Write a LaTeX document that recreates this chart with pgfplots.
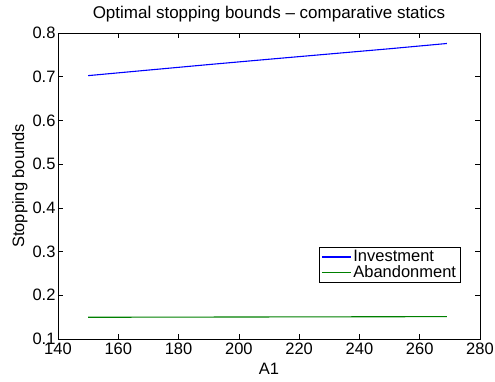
\documentclass[border=0pt]{standalone}
\usepackage{pgfplots}
\pgfplotsset{compat=1.18}
\usepackage{fontspec}
\setmainfont{Liberation Sans}
\definecolor{mgreen}{rgb}{0,0.5,0}
\begin{document}
\begin{tikzpicture}[x=1pt,y=1pt]
\useasboundingbox (-58,-42) rectangle (437,339);
\begin{axis}[
  at={(0,0)}, anchor=south west,
  scale only axis, width=422pt, height=306pt,
  xmin=140, xmax=280, ymin=0.1, ymax=0.8,
  xtick={140,160,...,280},
  ytick={0.1,0.2,...,0.8},
  tick align=inside,
  major tick length=5pt,
  tick style={black, line width=0.5pt},
  axis line style={line width=0.6pt},
  /pgf/number format/assume math mode=true,
  /pgf/number format/fixed,
  /pgf/number format/precision=1,
  ticklabel style={font=\fontsize{16.5}{18}\selectfont},
  yticklabel style={xshift=1pt},
  label style={font=\fontsize{16.5}{18}\selectfont},
  title style={font=\fontsize{17}{19}\selectfont, yshift=1pt},
  title={Optimal stopping bounds -- comparative statics},
  xlabel={A1},
  ylabel={Stopping bounds},
  xlabel style={yshift=-2pt},
  ylabel style={yshift=-2pt},
  legend style={at={(axis cs:226.6,0.2302)}, anchor=south west,
    font=\fontsize{16.5}{18}\selectfont,
    inner xsep=2pt, inner ysep=1pt, row sep=-2pt},
  legend cell align=left,
  legend image code/.code={\draw[#1] (0pt,0pt) -- (29pt,0pt);},
]
\addplot[draw=blue, color=blue, line width=1.1pt] coordinates {
(150,0.7025) (170,0.7152) (190,0.7278) (210,0.7400) (230,0.7520) (250,0.7640) (269,0.7760)};
\addlegendentry{Investment}
\addplot[draw=mgreen, color=mgreen, line width=1.1pt] coordinates {
(150,0.1497) (190,0.1502) (230,0.1507) (269,0.1512)};
\addlegendentry{Abandonment}
\end{axis}
\end{tikzpicture}
\end{document}
